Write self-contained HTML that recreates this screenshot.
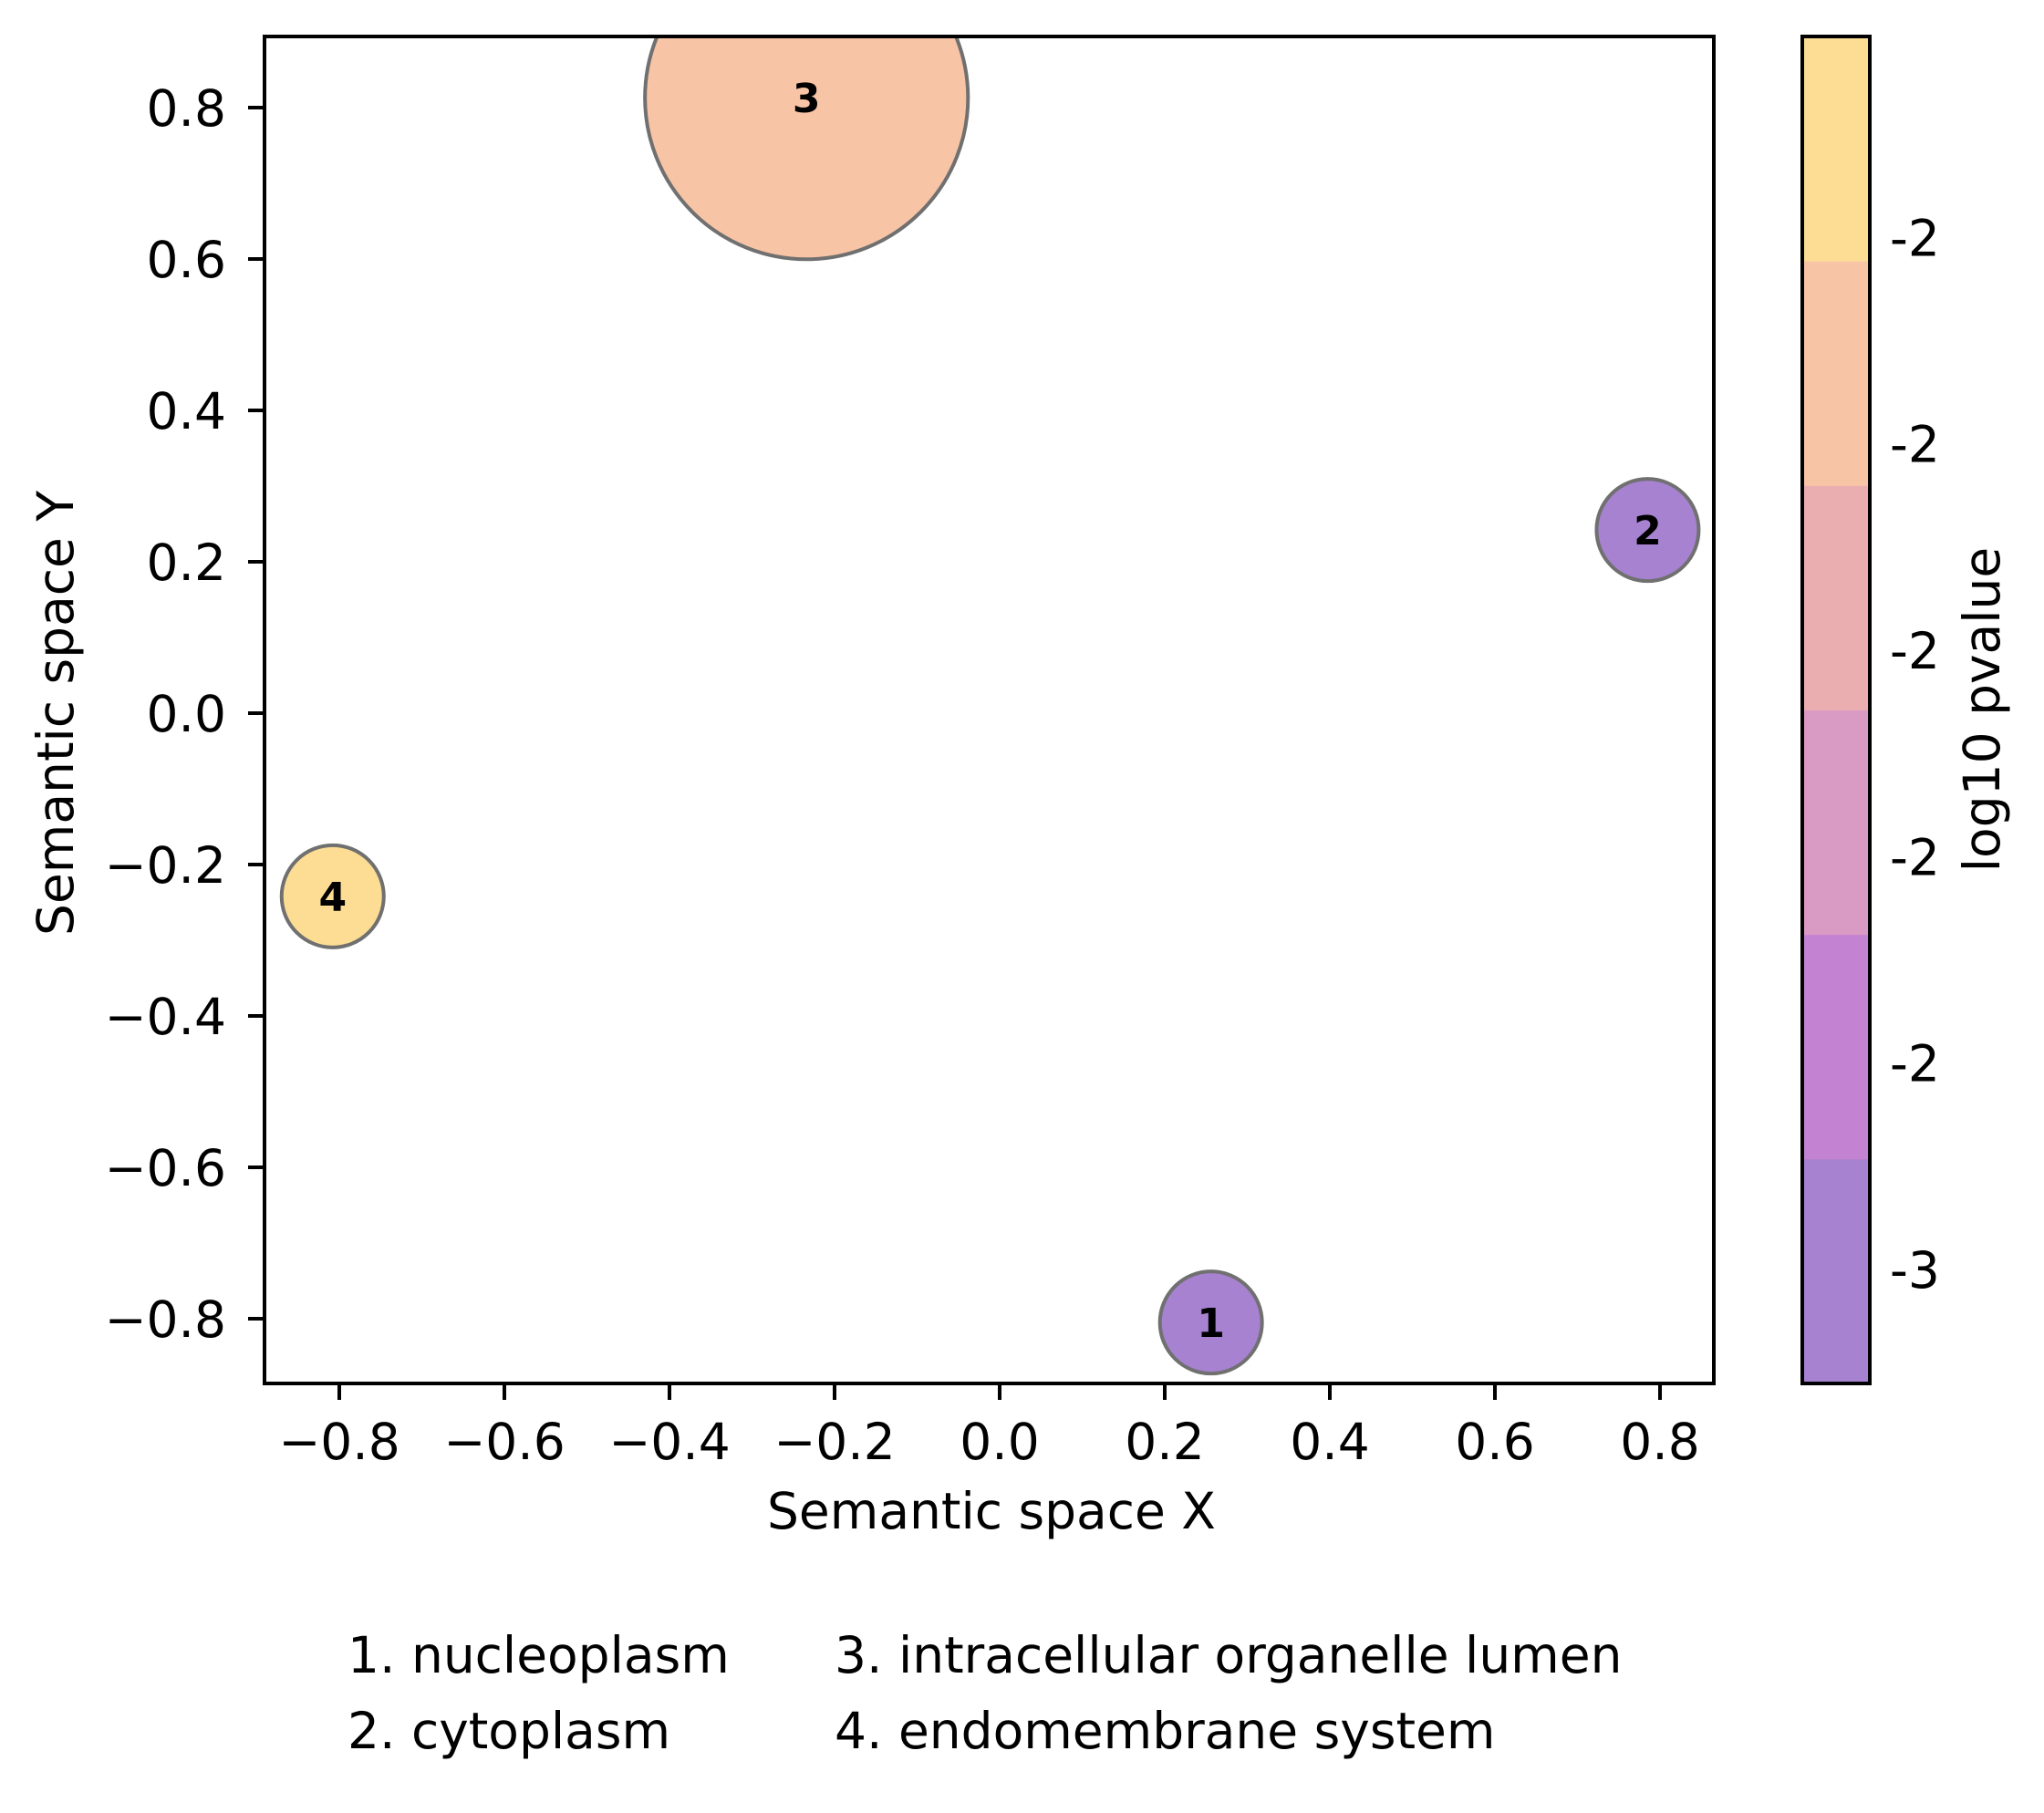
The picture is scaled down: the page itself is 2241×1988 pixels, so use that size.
<!DOCTYPE html>
<html><head><meta charset="utf-8">
<style>
html,body{margin:0;padding:0;background:#fff;}
svg{display:block;font-family:"DejaVu Sans","Liberation Sans",sans-serif;}
</style></head>
<body>
<svg id="chart" width="2241" height="1988" viewBox="0 0 2241 1988" xmlns="http://www.w3.org/2000/svg">
<rect x="0" y="0" width="2241" height="1988" fill="#fff"/>
<g id="bands"></g>
<g id="bubbles"></g>
<g id="axes"></g>
<text x="1087" y="1676" font-size="55" text-anchor="middle">Semantic space X</text>
<text transform="translate(80,782) rotate(-90)" font-size="55" text-anchor="middle">Semantic space Y</text>
<text transform="translate(2192,778) rotate(-90)" font-size="55" text-anchor="middle">log10 pvalue</text>
<g font-size="55">
<text x="381" y="1834">1. nucleoplasm</text>
<text x="381" y="1917">2. cytoplasm</text>
<text x="915" y="1834">3. intracellular organelle lumen</text>
<text x="915" y="1917">4. endomembrane system</text>
</g>
</svg>
<script>
const labels = ["1","2","3","4"];
const xs = [0.256, 0.785, -0.234, -0.808];
const ys = [-0.805, 0.242, 0.813, -0.242];
const sizes = [1, 1, 10, 1];
const pvals = [-3.1, -3.1, -2.2, -1.95];
const xTicks = [-0.8,-0.6,-0.4,-0.2,0.0,0.2,0.4,0.6,0.8];
const yTicks = [-0.8,-0.6,-0.4,-0.2,0.0,0.2,0.4,0.6,0.8];
const cbTicks = [-3.05,-2.86,-2.67,-2.48,-2.29,-2.10];
const bandColors = ["#a682d0","#c383d2","#d99ac4","#ebaeb0","#f8c4a6","#fddd94"];

const NS="http://www.w3.org/2000/svg";
const L=290,R=1879,T=40,B=1517;
const X0=-0.8,X1=0.8,PX0=372,PX1=1820;
const Y0=-0.8,Y1=0.8,PY0=1446,PY1=118;
const sx=v=>PX0+(v-X0)*(PX1-PX0)/(X1-X0);
const sy=v=>PY0+(v-Y0)*(PY1-PY0)/(Y1-Y0);
const CBL=1976,CBR=2050,VMIN=-3.155,VMAX=-1.915;
const cy=v=>B-(v-VMIN)/(VMAX-VMIN)*(B-T);
const fmt=v=>(v<0?"\u2212":"")+Math.abs(v).toFixed(1);
function mk(tag,attrs,parent,text){const e=document.createElementNS(NS,tag);for(const k in attrs)e.setAttribute(k,attrs[k]);if(text!==undefined)e.textContent=text;parent.appendChild(e);return e;}
function colorFor(p){let i=Math.floor((p-VMIN)/(VMAX-VMIN)*bandColors.length);i=Math.max(0,Math.min(bandColors.length-1,i));return bandColors[i];}

const bands=document.getElementById('bands');
const bubbles=document.getElementById('bubbles');
const axes=document.getElementById('axes');

const bh=(B-T)/bandColors.length;
bandColors.forEach((c,i)=>{
  const r=mk('rect',{x:CBL,y:B-(i+1)*bh,width:CBR-CBL,height:bh+0.5,fill:c},bands);
  
  
});
const cbf=mk('rect',{x:CBL,y:T,width:CBR-CBL,height:B-T,fill:'none',stroke:'#000','stroke-width':4},axes);


cbTicks.forEach(v=>{
  const y=cy(v);
  const tx=mk('text',{x:CBR+22,y:y+20,'font-size':55},axes,String(Math.trunc(v)));
  
  
});

const clip=mk('clipPath',{id:'plotclip'},bubbles);
mk('rect',{x:L,y:T,width:R-L,height:B-T},clip);
bubbles.setAttribute('clip-path','url(#plotclip)');
labels.forEach((lab,i)=>{
  const cx=sx(xs[i]),cyy=sy(ys[i]),r=56*Math.sqrt(sizes[i]);
  const c=mk('circle',{cx:cx,cy:cyy,r:r,fill:colorFor(pvals[i]),stroke:'#707070','stroke-width':4},bubbles);
  
  
  const t=mk('text',{x:cx,y:cyy+16,'font-size':44,'font-weight':'bold','text-anchor':'middle'},bubbles,lab);
  
  
});

const fr=mk('rect',{x:L,y:T,width:R-L,height:B-T,fill:'none',stroke:'#000','stroke-width':4},axes);


xTicks.forEach(v=>{
  const x=sx(v);
  const t=mk('line',{x1:x,x2:x,y1:B,y2:B+18,stroke:'#000','stroke-width':4},axes);
  
  
  const tx=mk('text',{x:x,y:1600,'font-size':55,'text-anchor':'middle'},axes,fmt(v));
  
  
});
yTicks.forEach(v=>{
  const y=sy(v);
  const t=mk('line',{x1:L-18,x2:L,y1:y,y2:y,stroke:'#000','stroke-width':4},axes);
  
  
  const tx=mk('text',{x:248,y:y+20,'font-size':55,'text-anchor':'end'},axes,fmt(v));
  
  
});
</script>
</body></html>
